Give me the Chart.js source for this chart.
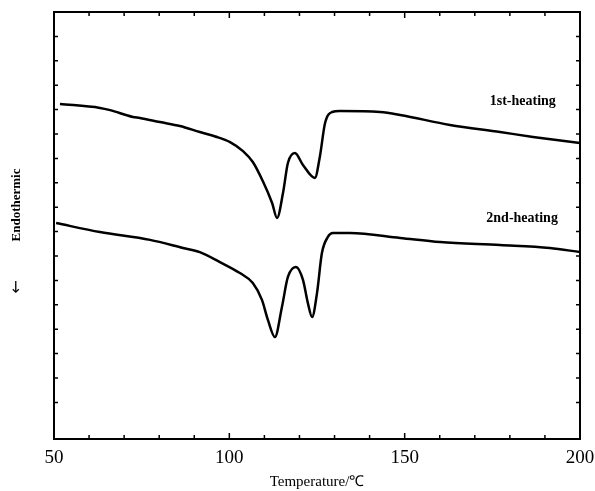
<!DOCTYPE html>
<html>
<head>
<meta charset="utf-8">
<script src="https://cdn.jsdelivr.net/npm/chart.js"></script>
<style>
  html, body { margin: 0; padding: 0; background: #fff; }
</style>
</head>
<body>
<canvas id="dscChart" width="595" height="491"></canvas>

<script>
  // 1st heating (temperature in °C, heat flow in arbitrary units)
  const firstTemps = [51.7, 63.1, 66.0, 72.5, 74.5, 80.2, 85.9, 91.6, 96.0, 100.2, 103.9, 106.7, 109.6,
    112.2, 113.6, 115.3, 116.7, 118.7, 121.0, 124.4, 125.8, 127.3, 129.3, 131.5, 143.0, 148.7,
    162.9, 177.2, 186.6, 200.0];
  const firstFlow = [13.23, 13.07, 12.98, 12.70, 12.66, 12.49, 12.33, 12.08, 11.90, 11.67, 11.30, 10.85, 10.05,
    9.17, 8.56, 9.58, 10.81, 11.22, 10.73, 10.20, 11.06, 12.45, 12.90, 12.94, 12.90, 12.78,
    12.37, 12.08, 11.88, 11.63];

  // 2nd heating
  const secondTemps = [50.6, 63.1, 77.4, 86.8, 91.6, 97.3, 103.0, 106.7, 109.3, 111.0, 113.0, 115.0,
    116.7, 119.0, 121.0, 122.4, 123.6, 125.0, 126.4, 128.1, 129.5, 134.4, 148.7, 160.1, 177.2,
    191.4, 200.0];
  const secondFlow = [8.35, 7.98, 7.66, 7.33, 7.16, 6.75, 6.30, 5.89, 5.20, 4.38, 3.68, 4.91,
    6.14, 6.55, 6.02, 5.07, 4.50, 5.48, 7.12, 7.78, 7.94, 7.94, 7.74, 7.57, 7.45,
    7.33, 7.16];

  const curveLabels = ['1st-heating', '2nd-heating'];
  const xTickLabels = [50, 100, 150, 200];

  function toPoints(xs, ys) {
    return xs.map((x, i) => ({ x: x, y: ys[i] }));
  }

  // inward ticks on all four sides, the frame and the free texts
  const framePlugin = {
    id: 'frame',
    afterDraw(chart) {
      const { ctx, chartArea: a, scales: { x, y } } = chart;
      ctx.save();
      ctx.strokeStyle = '#000';
      ctx.lineWidth = 2;
      ctx.strokeRect(a.left, a.top, a.right - a.left, a.bottom - a.top);

      ctx.lineWidth = 1.5;
      x.ticks.forEach(t => {
        const px = x.getPixelForValue(t.value);
        const len = t.value % 50 === 0 ? 6 : 4;
        ctx.beginPath();
        ctx.moveTo(px, a.bottom); ctx.lineTo(px, a.bottom - len);
        ctx.moveTo(px, a.top); ctx.lineTo(px, a.top + len);
        ctx.stroke();
      });
      y.ticks.forEach(t => {
        const py = y.getPixelForValue(t.value);
        ctx.beginPath();
        ctx.moveTo(a.left, py); ctx.lineTo(a.left + 4, py);
        ctx.moveTo(a.right, py); ctx.lineTo(a.right - 4, py);
        ctx.stroke();
      });

      ctx.fillStyle = '#000';
      ctx.font = 'bold 14px "Liberation Serif"';
      ctx.textAlign = 'right';
      ctx.textBaseline = 'middle';
      ctx.fillText(curveLabels[0], x.getPixelForValue(193.1), y.getPixelForValue(13.35));
      ctx.fillText(curveLabels[1], x.getPixelForValue(193.7), y.getPixelForValue(8.56));

      // y axis title
      ctx.save();
      ctx.translate(17, 205);
      ctx.rotate(-Math.PI / 2);
      ctx.textAlign = 'center';
      ctx.font = 'bold 13px "Liberation Serif"';
      ctx.fillText('Endothermic', 0, 0);
      ctx.font = '16px "DejaVu Sans"';
      ctx.fillText('\u2190', -82, 0);
      ctx.restore();

      ctx.restore();
    }
  };

  const ctx = document.getElementById('dscChart').getContext('2d');

  new Chart(ctx, {
    type: 'line',
    data: {
      datasets: [
        {
          label: curveLabels[0],
          data: toPoints(firstTemps, firstFlow),
          borderColor: '#000',
          borderWidth: 2.5,
          pointRadius: 0,
          fill: false,
          cubicInterpolationMode: 'monotone'
        },
        {
          label: curveLabels[1],
          data: toPoints(secondTemps, secondFlow),
          borderColor: '#000',
          borderWidth: 2.5,
          pointRadius: 0,
          fill: false,
          cubicInterpolationMode: 'monotone'
        }
      ]
    },
    options: {
      responsive: false,
      animation: false,
      layout: { padding: { left: 54, right: 15, top: 12, bottom: 0 } },
      plugins: {
        legend: { display: false },
        tooltip: { enabled: false }
      },
      scales: {
        x: {
          type: 'linear',
          min: 50,
          max: 200,
          grid: { display: false, drawTicks: false },
          border: { display: false },
          ticks: {
            stepSize: 10,
            autoSkip: false,
            maxRotation: 0,
            padding: 8,
            color: '#000',
            font: { family: '"Liberation Serif"', size: 19 },
            callback: v => xTickLabels.includes(v) ? String(v) : ''
          },
          title: {
            display: true,
            text: 'Temperature/\u2103',
            color: '#000',
            font: { family: '"Liberation Serif"', size: 15 },
            padding: { top: 2, bottom: 0 }
          },
          afterFit: s => {
            s.height = 52;
            s.paddingLeft = 0;
            s.paddingRight = 0;
          }
        },
        y: {
          min: -0.5,
          max: 17,
          grid: { display: false, drawTicks: false },
          border: { display: false },
          ticks: { display: false, stepSize: 1 },
          afterFit: s => { s.width = 0; }
        }
      }
    },
    plugins: [framePlugin]
  });
</script>
</body>
</html>
